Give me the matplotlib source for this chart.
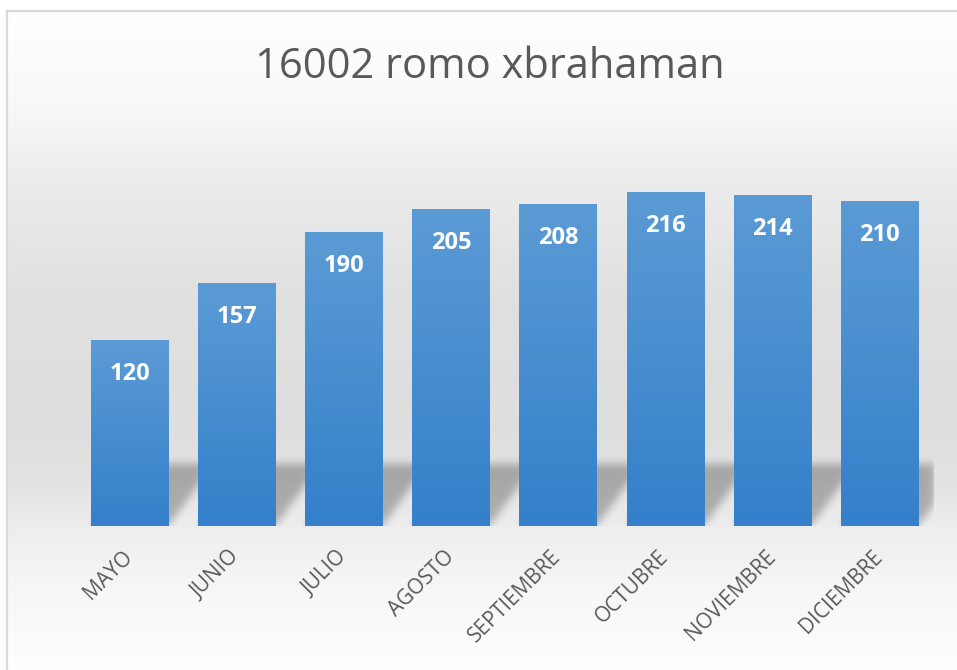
import numpy as np
import matplotlib
matplotlib.use("Agg")
import matplotlib.pyplot as plt
from matplotlib.lines import Line2D

# datos
meses = ["MAYO", "JUNIO", "JULIO", "AGOSTO", "SEPTIEMBRE", "OCTUBRE", "NOVIEMBRE", "DICIEMBRE"]
valores = [120, 157, 190, 205, 208, 216, 214, 210]
titulo = "16002 romo xbrahaman"

W, H = 957, 670
fig = plt.figure(figsize=(W / 100, H / 100), dpi=100)
fig.patch.set_facecolor("white")

# fondo con degradado (blanco arriba, gris al medio, blanco abajo)
bg = fig.add_axes([7 / W, 0, 1 - 7 / W, 1 - 10 / H], zorder=-10)
ys = np.linspace(10, 670, 400)
stops_y = [10, 100, 180, 300, 420, 480, 530, 600, 670]
stops_v = [255, 249, 236, 224, 222, 226, 238, 248, 254]
g = np.interp(ys, stops_y, stops_v) / 255
bg.imshow(np.dstack([g, g, g]).reshape(-1, 1, 3), aspect="auto",
          extent=(0, 1, 0, 1), interpolation="bilinear")
bg.axis("off")

# borde gris (izquierda y arriba)
fig.add_artist(Line2D([7.5 / W, 7.5 / W], [0, 1 - 10.5 / H], color="#d9d9d9", lw=1.6))
fig.add_artist(Line2D([7.5 / W, 1], [1 - 10.5 / H, 1 - 10.5 / H], color="#d9d9d9", lw=1.6))

# area del grafico
x0, x1, ybot, ytop = 76, 933, 526, 139.5
ax = fig.add_axes([x0 / W, 1 - ybot / H, (x1 - x0) / W, (ybot - ytop) / H])
ax.patch.set_alpha(0)
ymax = 250
xpos = np.arange(len(meses))
ancho = 0.72

bars = ax.bar(xpos, valores, width=ancho, color="#3580cb", zorder=2)

# sombra inclinada detras de las barras
nx, ny = int(x1 - x0), int(ybot - ytop)
gx = np.linspace(-0.5, len(meses) - 0.5, nx)
gy = np.linspace(0, ymax, ny)
XX, YY = np.meshgrid(gx, gy)
h_sh = 62 / ny * ymax
dx_sh = 45 / nx * len(meses)
mask = np.zeros_like(XX)
for b in bars:
    xl, xr = b.get_x(), b.get_x() + b.get_width()
    xs = XX - dx_sh * np.clip(YY / h_sh, 0, None)
    mask[(YY <= h_sh) & (xs >= xl) & (xs <= xr)] = 1.0
sig = 4
k = np.exp(-0.5 * (np.arange(-3 * sig, 3 * sig + 1) / sig) ** 2)
k /= k.sum()
mask = np.apply_along_axis(lambda r: np.convolve(r, k, mode="same"), 1, mask)
mask = np.apply_along_axis(lambda c: np.convolve(c, k, mode="same"), 0, mask)
sh = np.zeros((ny, nx, 4))
sh[..., 3] = mask * 0.26
ax.imshow(sh, extent=(-0.5, len(meses) - 0.5, 0, ymax), origin="lower",
          aspect="auto", zorder=1, interpolation="bilinear")

# degradado en cada barra
top_c = np.array([91, 155, 213]) / 255
bot_c = np.array([52, 128, 202]) / 255
for b in bars:
    tt = np.linspace(0, 1, 100)[:, None]
    grad = bot_c[None, :] * (1 - tt) + top_c[None, :] * tt
    ax.imshow(grad[:, None, :], extent=(b.get_x(), b.get_x() + b.get_width(), 0, b.get_height()),
              origin="lower", aspect="auto", zorder=3, interpolation="bilinear")

# etiquetas de datos
for xi, v in zip(xpos, valores):
    ax.annotate(str(v), (xi, v), xytext=(0, -22), textcoords="offset pixels",
                ha="center", va="top", color="white", fontsize=17,
                fontweight="bold", family="Open Sans", zorder=4)

ax.set_xlim(-0.5, len(meses) - 0.5)
ax.set_ylim(0, ymax)
ax.set_xticks(xpos)
ax.set_xticklabels(meses, rotation=45, ha="right", va="center", rotation_mode="anchor",
                   color="#595959", fontsize=15, family="Open Sans")
ax.tick_params(axis="x", length=0, pad=20)
ax.set_yticks([])
for s in ax.spines.values():
    s.set_visible(False)

fig.text(490 / W, 1 - 78 / H, titulo, ha="center", va="baseline", fontsize=30,
         color="#595959", family="Open Sans")

fig.savefig("out.png", dpi=100)
